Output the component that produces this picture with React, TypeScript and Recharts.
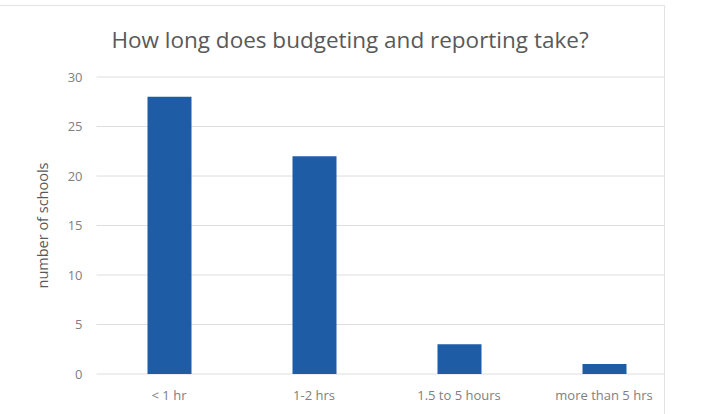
import React from 'react';
import { BarChart, Bar, XAxis, YAxis, CartesianGrid, Label } from 'recharts';

const categories = ['< 1 hr', '1-2 hrs', '1.5 to 5 hours', 'more than 5 hrs'];
const schools = [28, 22, 3, 1];
const yTicks = [0, 5, 10, 15, 20, 25, 30];

const data = categories.map((name, i) => ({ name, schools: schools[i] }));

const font = '"Open Sans", "Noto Sans", sans-serif';

const App: React.FC = () => {
  return (
    <div style={{ position: 'absolute', left: 0, top: 0, width: 702, height: 414, background: '#fff' }}>
      <div
        style={{
          position: 'absolute',
          left: 0,
          top: 5,
          width: 665,
          height: 409,
          overflow: 'hidden',
          borderTop: '1px solid #e3e3e3',
          borderRight: '1px solid #e3e3e3',
          boxSizing: 'border-box',
        }}
      >
        <div
          style={{
            position: 'absolute',
            left: 0,
            width: 700,
            top: 18,
            textAlign: 'center',
            fontFamily: font,
            fontSize: 22.5,
            color: '#595959',
          }}
        >
          How long does budgeting and reporting take?
        </div>
        <div style={{ position: 'absolute', left: 0, top: -5 }}>
          <BarChart
            width={700}
            height={414}
            data={data}
            margin={{ top: 76, right: 23.5, bottom: 11, left: 0 }}
            barSize={44}
          >
            <CartesianGrid vertical={false} stroke="#dedede" />
            <XAxis
              dataKey="name"
              axisLine={false}
              tickLine={false}
              height={30}
              tickMargin={11}
              tick={{ fill: '#808080', fontSize: 13, fontFamily: font }}
              interval={0}
            />
            <YAxis
              width={96.5}
              domain={[0, 30]}
              ticks={yTicks}
              axisLine={false}
              tickLine={false}
              tickSize={0}
              tickMargin={14}
              tick={{ fill: '#808080', fontSize: 13, fontFamily: font }}
            >
              <Label
                value="number of schools"
                angle={-90}
                position="insideLeft"
                offset={43}
                style={{ fill: '#595959', fontSize: 14.5, fontFamily: font, textAnchor: 'middle' }}
              />
            </YAxis>
            <Bar dataKey="schools" fill="#1f5ca6" isAnimationActive={false} />
          </BarChart>
        </div>
      </div>
    </div>
  );
};

export default App;
